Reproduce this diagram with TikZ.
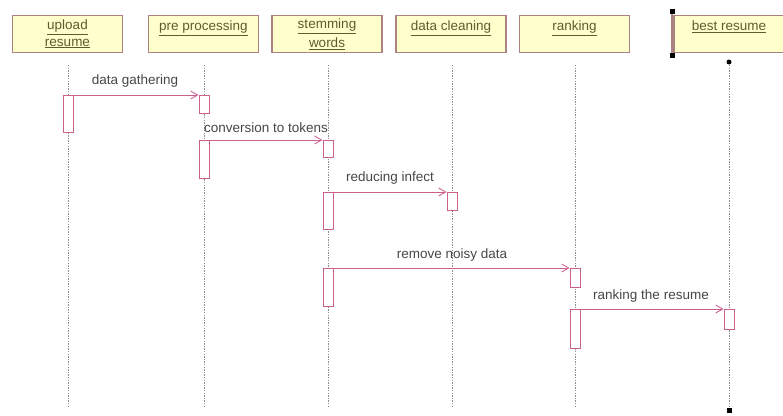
\documentclass[tikz,border=0pt]{standalone}
\usepackage{fontspec}
\setmainfont{Liberation Sans}
\usetikzlibrary{arrows.meta}
\definecolor{headfill}{RGB}{255,255,204}
\definecolor{headdraw}{RGB}{170,130,130}
\definecolor{headtext}{RGB}{92,92,48}
\definecolor{msgcol}{RGB}{204,96,140}
\definecolor{lblcol}{RGB}{70,70,70}
\definecolor{lifecol}{RGB}{140,140,140}
\tikzset{
  head/.style={draw=headdraw, line width=1.3pt, fill=headfill, minimum width=110pt, minimum height=37pt,
    inner sep=0pt, text=headtext, align=center, font=\fontsize{13.5}{15.5}\selectfont, anchor=north},
  act/.style={draw=msgcol, line width=0.9pt, fill=white, minimum width=10pt, inner sep=0pt, anchor=north},
  msg/.style={draw=msgcol, line width=0.9pt, -{Straight Barb[length=7pt,width=8pt]}},
  lbl/.style={text=lblcol, font=\fontsize{13.5}{15}\selectfont, inner sep=0pt},
  life/.style={draw=lifecol, line width=0.9pt, dash pattern=on 1.3pt off 1.3pt},
  handle/.style={fill=black, minimum size=5pt, inner sep=0pt},
}
\newcommand{\ulx}[1]{\underline{#1}}
\newcommand{\oneline}[1]{\raisebox{3.5pt}[0pt][0pt]{\underline{#1}}}
\begin{document}
\begin{tikzpicture}[x=1pt,y=-1pt]
\useasboundingbox (0,0) rectangle (783,415);
% heads
\node[head] (h1) at (67.5,15) {\raisebox{-1.5pt}{\shortstack{\ulx{upload}\\[1pt]\ulx{resume}}}};
\node[head] (h2) at (203.5,15) {\oneline{pre processing}};
\node[head] (h3) at (327,15) {\raisebox{-1.5pt}{\shortstack{\ulx{stemming}\\[1pt]\ulx{words}}}};
\node[head] (h4) at (451,15) {\oneline{data cleaning}};
\node[head] (h5) at (574.5,15) {\oneline{ranking}};
\node[head] (h6) at (729,15) {\oneline{best resume}};
% selection bracket on h6
\coordinate (bt) at (672,11);
\coordinate (bb) at (672,55);
\draw[headdraw, line width=1.2pt] (bt) -- (bb);
\node[handle] at (bt) {};
\node[handle] at (bb) {};
% lifelines
\foreach \i/\x in {1/68,2/204,3/328,4/452,5/575,6/729}{
  \coordinate (t\i) at (\x,65);
  \coordinate (b\i) at (\x,408);
  \draw[life] (t\i) -- (b\i);
}
\node[handle, circle, minimum size=5pt] at (729,62) {};
\node[handle] at (729,410) {};
% activations
\node[act, minimum height=37pt] (a1) at (68,95) {};
\node[act, minimum height=18pt] (a2) at (204,95) {};
\node[act, minimum height=38pt] (a2b) at (204,140) {};
\node[act, minimum height=17pt] (a3) at (328,140) {};
\node[act, minimum height=37pt] (a3b) at (328,192) {};
\node[act, minimum height=18pt] (a4) at (452,192) {};
\node[act, minimum height=38pt] (a3c) at (328,268) {};
\node[act, minimum height=19pt] (a5) at (575,268) {};
\node[act, minimum height=39pt] (a5b) at (575,309) {};
\node[act, minimum height=20pt] (a6) at (729,309) {};
% messages
\draw[msg] (a1.north east) -- (a2.north west);
\draw[msg] (a2b.north east) -- (a3.north west);
\draw[msg] (a3b.north east) -- (a4.north west);
\draw[msg] (a3c.north east) -- (a5.north west);
\draw[msg] (a5b.north east) -- (a6.north west);
% labels
\node[lbl] (m1) at (135,81) {data gathering};
\node[lbl] (m2) at (266,128) {conversion to tokens};
\node[lbl] (m3) at (390,178) {reducing infect};
\node[lbl] (m4) at (452,255) {remove noisy data};
\node[lbl] (m5) at (651,296) {ranking the resume};
\end{tikzpicture}
\end{document}
